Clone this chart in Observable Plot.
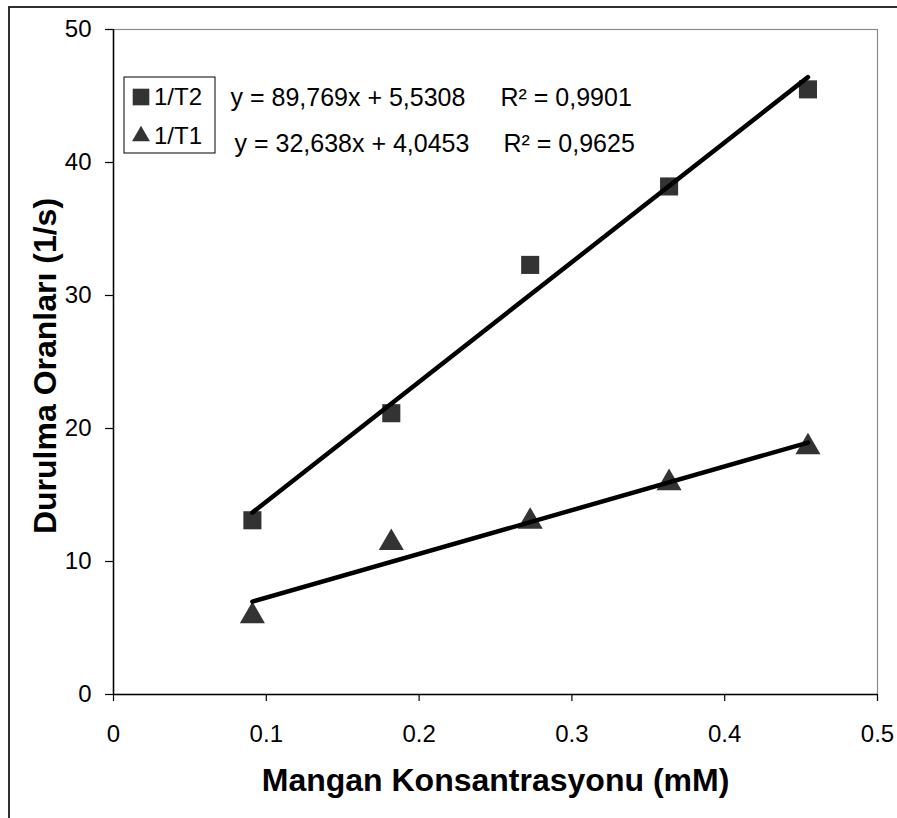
<!DOCTYPE html>
<html>
<head>
<meta charset="utf-8">
<script src="https://cdn.jsdelivr.net/npm/d3@7"></script>
<script src="https://cdn.jsdelivr.net/npm/@observablehq/plot@0.6"></script>
<style>
  html, body { margin: 0; padding: 0; background: #fff; overflow: hidden; }
  #chart { position: relative; width: 897px; height: 818px; }
</style>
</head>
<body>
<div id="chart"></div>
<script>
// ---- data ----
const concentrations = [0.0909, 0.1818, 0.2727, 0.3636, 0.4545];
const rateT2 = [13.1, 21.15, 32.3, 38.2, 45.5];
const rateT1 = [5.9, 11.4, 13.0, 15.9, 18.6];
const seriesNames = ["1/T2", "1/T1"];
const equations = ["y = 89,769x + 5,5308", "y = 32,638x + 4,0453"];
const rSquared = ["R² = 0,9901", "R² = 0,9625"];
const xTicks = [0, 0.1, 0.2, 0.3, 0.4, 0.5];
const yTicks = [0, 10, 20, 30, 40, 50];
const xTitle = "Mangan Konsantrasyonu (mM)";
const yTitle = "Durulma Oranları (1/s)";

const t2 = concentrations.map((x, i) => ({x, y: rateT2[i]}));
const t1 = concentrations.map((x, i) => ({x, y: rateT1[i]}));

const markerFill = "#333333";
const rSquare = 10.2;
const rTriangle = 9.3;

const plot = Plot.plot({
  width: 897,
  height: 818,
  marginLeft: 113,
  marginRight: 20,
  marginTop: 29,
  marginBottom: 124,
  style: {fontFamily: "'Liberation Sans', Arial, sans-serif", fontSize: "24px", background: "#fff", color: "#000"},
  x: {domain: [0, 0.5]},
  y: {domain: [0, 50]},
  marks: [
    Plot.frame({stroke: "#8a8a8a", strokeWidth: 1.2}),
    Plot.ruleX([0], {stroke: "#000", strokeWidth: 1.5}),
    Plot.ruleY([0], {stroke: "#000", strokeWidth: 1.5}),
    Plot.axisY({ticks: yTicks, tickSize: 8, tickPadding: 14, label: null, tickFormat: d => String(d), strokeWidth: 1.2}),
    Plot.axisX({ticks: xTicks, tickSize: 7, tickPadding: 23, label: null, tickFormat: d => String(d), strokeWidth: 1.2}),
    Plot.dot(t2, {x: "x", y: "y", symbol: "square", r: rSquare, fill: markerFill, stroke: "none"}),
    Plot.dot(t1, {x: "x", y: "y", symbol: "triangle", r: rTriangle, fill: markerFill, stroke: "none"}),
    Plot.linearRegressionY(t2, {x: "x", y: "y", ci: 0, stroke: "#000", strokeWidth: 4.5, strokeLinecap: "round"}),
    Plot.linearRegressionY(t1, {x: "x", y: "y", ci: 0, stroke: "#000", strokeWidth: 4.5, strokeLinecap: "round"}),
    // trendline equations
    Plot.text([equations[0]], {frameAnchor: "top-left", text: d => d, dx: 117, dy: 68, textAnchor: "start", fontSize: 25, lineAnchor: "middle"}),
    Plot.text([equations[1]], {frameAnchor: "top-left", text: d => d, dx: 121, dy: 114, textAnchor: "start", fontSize: 25, lineAnchor: "middle"}),
    Plot.text([rSquared[0]], {frameAnchor: "top-left", text: d => d, dx: 387, dy: 68, textAnchor: "start", fontSize: 25, lineAnchor: "middle"}),
    Plot.text([rSquared[1]], {frameAnchor: "top-left", text: d => d, dx: 390, dy: 114, textAnchor: "start", fontSize: 25, lineAnchor: "middle"}),
    // axis titles
    Plot.text([xTitle], {frameAnchor: "bottom", text: d => d, dy: 86, fontSize: 32, fontWeight: "bold", lineAnchor: "middle", textAnchor: "middle"}),
    Plot.text([yTitle], {frameAnchor: "left", text: d => d, dx: -68, dy: 4, rotate: -90, fontSize: 32, fontWeight: "bold", lineAnchor: "middle", textAnchor: "middle"})
  ]
});

document.getElementById("chart").appendChild(plot);

// outer chart-area border and legend box
const svg = d3.select(plot);
svg.append("rect")
  .attr("x", 9).attr("y", 7).attr("width", 900).attr("height", 820)
  .attr("fill", "none").attr("stroke", "#1a1a1a").attr("stroke-width", 1.8);

const legend = svg.append("g").attr("transform", "translate(124,77)");
legend.append("rect").attr("x", 0).attr("y", 0).attr("width", 91).attr("height", 76)
  .attr("fill", "#fff").attr("stroke", "#000").attr("stroke-width", 1);
const legendSymbols = [d3.symbolSquare, d3.symbolTriangle2 || d3.symbolTriangle];
const legendRadii = [rSquare * 0.92, rTriangle * 0.92];
seriesNames.forEach((name, i) => {
  const cy = 20 + i * 39;
  legend.append("path")
    .attr("d", d3.symbol(legendSymbols[i], Math.PI * legendRadii[i] ** 2)())
    .attr("transform", `translate(17,${cy})`)
    .attr("fill", markerFill);
  legend.append("text")
    .attr("x", 30).attr("y", cy).attr("dy", "0.35em")
    .attr("text-anchor", "start")
    .attr("font-size", 24)
    .text(name);
});
</script>
</body>
</html>
